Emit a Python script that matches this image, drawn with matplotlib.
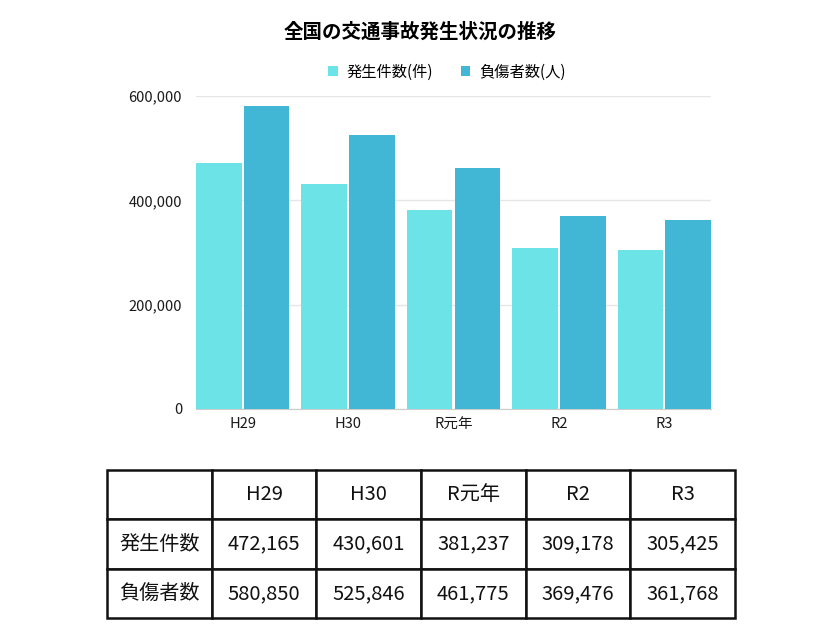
import numpy as np
import matplotlib
matplotlib.use("Agg")
import matplotlib.pyplot as plt
import matplotlib.ticker as mticker

plt.rcParams['font.family'] = ['Noto Sans CJK JP', 'DejaVu Sans']

years = ['H29', 'H30', 'R元年', 'R2', 'R3']
accidents = [472165, 430601, 381237, 309178, 305425]   # 発生件数
injured = [580850, 525846, 461775, 369476, 361768]     # 負傷者数
row_labels = ['発生件数', '負傷者数']

c_light = '#6ce4e7'
c_dark = '#42b6d5'

fig = plt.figure(figsize=(8.4, 6.3), dpi=100)

# bar chart
ax = fig.add_axes([196/840, 1-409/630, 515/840, 313/630])
x = np.arange(len(years))
w = 0.432
gap = 0.01
ax.bar(x - w/2 - gap, accidents, w, color=c_light, label='発生件数(件)', zorder=3)
ax.bar(x + w/2 + gap, injured, w, color=c_dark, label='負傷者数(人)', zorder=3)
half = w + gap
ax.set_xlim(-half, len(years) - 1 + half)
ax.set_ylim(0, 600000)
ax.set_yticks([0, 200000, 400000, 600000])
ax.yaxis.set_major_formatter(mticker.FuncFormatter(lambda v, p: f'{int(v):,}'))
ax.set_xticks(x)
ax.set_xticklabels(years)
ax.tick_params(length=0, labelsize=10.5, colors='#1a1a1a')
ax.tick_params(axis='y', pad=10)
ax.tick_params(axis='x', pad=6)
ax.grid(axis='y', color='#e6e6e6', lw=1, zorder=0)
for s in ['top', 'right', 'left']:
    ax.spines[s].set_visible(False)
ax.spines['bottom'].set_color('#cccccc')

fig.suptitle('全国の交通事故発生状況の推移', x=0.5, y=1-32/630, va='center',
             fontsize=14, fontweight='bold')
fig.legend(loc='center', bbox_to_anchor=(447/840, 1-72/630), ncol=2, frameon=False,
           fontsize=11, handlelength=0.6, handleheight=0.6, columnspacing=1.8,
           handletextpad=0.6)

# table
tax = fig.add_axes([107/840, 1-618/630, 628/840, 148/630])
tax.axis('off')
cells = [[''] + years]
cells.append([row_labels[0]] + [f'{v:,}' for v in accidents])
cells.append([row_labels[1]] + [f'{v:,}' for v in injured])
tbl = tax.table(cellText=cells, cellLoc='center', bbox=[0, 0, 1, 1])
tbl.auto_set_font_size(False)
for (r, c), cell in tbl.get_celld().items():
    cell.set_linewidth(1.8)
    cell.set_edgecolor('#111111')
    cell.get_text().set_fontsize(14.5)
    cell.get_text().set_color('#111111')

fig.savefig('out.png', dpi=100, facecolor='white')
